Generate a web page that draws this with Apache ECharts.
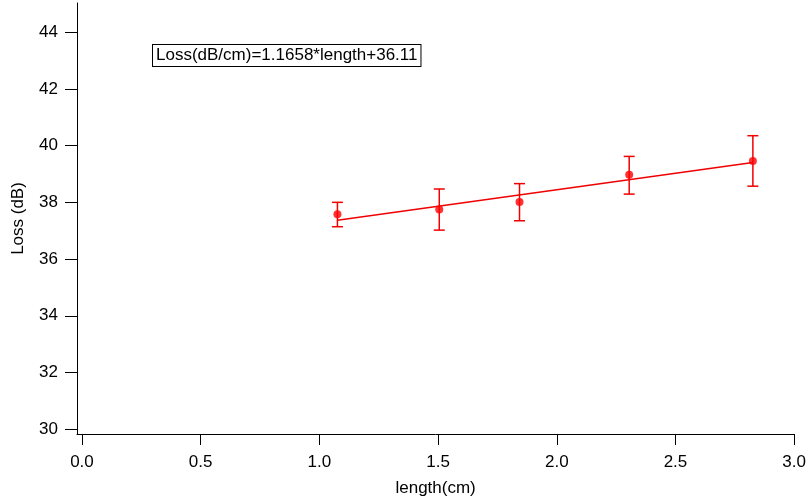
<!DOCTYPE html>
<html>
<head>
<meta charset="utf-8">
<script src="https://cdn.jsdelivr.net/npm/echarts@6/dist/echarts.min.js"></script>
<style>
  html, body { margin: 0; padding: 0; background: #fff; }
  #chart { width: 809px; height: 502px; }
</style>
</head>
<body>
<div id="chart"></div>
<script>
// Measured loss versus sample length, with error bars and a linear fit
const lengths = [1.076, 1.505, 1.843, 2.305, 2.826];
const losses  = [37.58, 37.75, 38.01, 38.97, 39.46];
const errLow  = [37.14, 37.02, 37.35, 38.29, 38.57];
const errHigh = [38.00, 38.47, 38.66, 39.62, 40.35];

// Linear fit coefficients, as printed in the annotation
const fitSlope = 1.1658;
const fitIntercept = 36.11;
const fitLabel = 'Loss(dB/cm)=1.1658*length+36.11';

const xTicks = [0, 0.5, 1.0, 1.5, 2.0, 2.5, 3.0];
const yTicks = [30, 32, 34, 36, 38, 40, 42, 44];

const FONT = "'Liberation Sans', Arial, sans-serif";
const RED = '#f00000';

const fitEnds = [lengths[0], lengths[lengths.length - 1]];
const fitData = fitEnds.map(x => [x, fitSlope * x + fitIntercept]);

const chart = echarts.init(document.getElementById('chart'), null, { renderer: 'canvas' });

chart.setOption({
  animation: false,
  backgroundColor: '#fff',
  grid: { left: 77, right: 14, top: 3, bottom: 68, containLabel: false },
  xAxis: {
    type: 'value',
    min: -0.021,
    max: 3.0,
    name: 'length(cm)',
    nameLocation: 'middle',
    nameGap: 46,
    nameTextStyle: { color: '#000', fontSize: 17, fontFamily: FONT },
    axisLine: { show: true, onZero: false, lineStyle: { color: '#000', width: 1 } },
    axisTick: { show: true, inside: false, length: 11, customValues: xTicks, lineStyle: { color: '#000', width: 1 } },
    axisLabel: { customValues: xTicks, margin: 20, color: '#000', fontSize: 17, fontFamily: FONT,
                 formatter: v => v.toFixed(1) },
    splitLine: { show: false }
  },
  yAxis: {
    type: 'value',
    min: 29.83,
    max: 45.03,
    name: 'Loss (dB)',
    nameLocation: 'middle',
    nameGap: 50,
    nameRotate: 90,
    nameTextStyle: { color: '#000', fontSize: 17, fontFamily: FONT },
    axisLine: { show: true, onZero: false, lineStyle: { color: '#000', width: 1 } },
    axisTick: { show: true, inside: false, length: 12, customValues: yTicks, lineStyle: { color: '#000', width: 1 } },
    axisLabel: { customValues: yTicks, margin: 19, color: '#000', fontSize: 17, fontFamily: FONT },
    splitLine: { show: false }
  },
  graphic: [{
    type: 'text',
    left: 152,
    top: 44,
    z: 10,
    style: {
      text: fitLabel,
      fill: '#000',
      font: '17px ' + FONT,
      backgroundColor: '#fff',
      borderColor: '#000',
      borderWidth: 1,
      padding: [2, 3, 2, 3]
    }
  }],
  series: [
    {
      name: 'fit',
      type: 'line',
      data: fitData,
      symbol: 'none',
      lineStyle: { color: RED, width: 1.5 },
      z: 2
    },
    {
      name: 'error',
      type: 'custom',
      data: lengths.map((x, i) => [x, errLow[i], errHigh[i]]),
      renderItem: function (params, api) {
        const x = api.value(0);
        const lo = api.coord([x, api.value(1)]);
        const hi = api.coord([x, api.value(2)]);
        const half = 5.5;
        const style = { stroke: RED, lineWidth: 1.5 };
        return {
          type: 'group',
          children: [
            { type: 'line', shape: { x1: lo[0], y1: lo[1], x2: hi[0], y2: hi[1] }, style },
            { type: 'line', shape: { x1: lo[0] - half, y1: lo[1], x2: lo[0] + half, y2: lo[1] }, style },
            { type: 'line', shape: { x1: hi[0] - half, y1: hi[1], x2: hi[0] + half, y2: hi[1] }, style }
          ]
        };
      },
      z: 3
    },
    {
      name: 'loss',
      type: 'scatter',
      data: lengths.map((x, i) => [x, losses[i]]),
      symbol: 'circle',
      symbolSize: 8,
      itemStyle: { color: '#ff0000' },
      z: 4
    }
  ]
});
</script>
</body>
</html>
